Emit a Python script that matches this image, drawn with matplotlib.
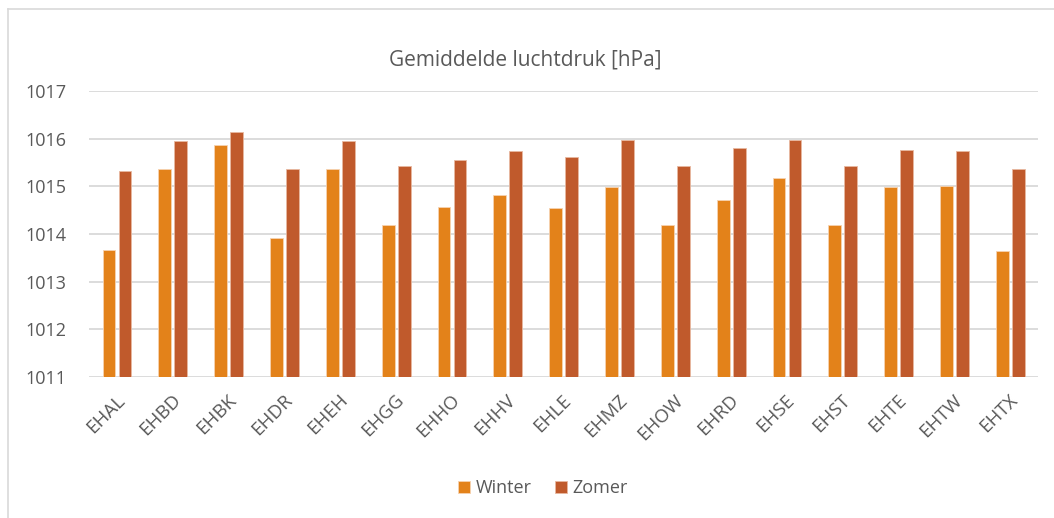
import matplotlib
matplotlib.use('Agg')
import matplotlib.pyplot as plt
import matplotlib.transforms as mtransforms
import numpy as np
from matplotlib.lines import Line2D

# stations en gemiddelde luchtdruk (hPa)
stations = ['EHAL', 'EHBD', 'EHBK', 'EHDR', 'EHEH', 'EHGG', 'EHHO', 'EHHV', 'EHLE',
            'EHMZ', 'EHOW', 'EHRD', 'EHSE', 'EHST', 'EHTE', 'EHTW', 'EHTX']
winter = [1013.66, 1015.37, 1015.87, 1013.92, 1015.37, 1014.20, 1014.57, 1014.82, 1014.54,
          1014.98, 1014.20, 1014.71, 1015.17, 1014.20, 1014.99, 1015.01, 1013.64]
zomer = [1015.33, 1015.95, 1016.15, 1015.37, 1015.95, 1015.42, 1015.56, 1015.75, 1015.62,
         1015.98, 1015.42, 1015.81, 1015.98, 1015.42, 1015.77, 1015.74, 1015.36]

kleur_winter = '#E3821A'
kleur_zomer = '#C05A2C'
tekstkleur = '#595959'

plt.rcParams['font.family'] = ['Open Sans', 'DejaVu Sans']

fig = plt.figure(figsize=(10.54, 5.18), dpi=100)
ax = fig.add_axes([0.0845, 0.272, 0.9005, 0.552])

x = np.arange(len(stations))
breedte = 0.23
ax.bar(x - 0.143, np.array(winter) - 1011, breedte, bottom=1011, color=kleur_winter,
       edgecolor='#F6D2B0', linewidth=0.6, label='Winter', zorder=3)
ax.bar(x + 0.143, np.array(zomer) - 1011, breedte, bottom=1011, color=kleur_zomer,
       edgecolor='#E8B8A0', linewidth=0.6, label='Zomer', zorder=3)

ax.set_ylim(1011, 1017)
ax.set_xlim(-0.5, len(stations) - 0.5)
ax.set_yticks(range(1011, 1018))
ax.set_xticks(x)
ax.set_xticklabels(stations, rotation=45, ha='right', rotation_mode='anchor')
ax.tick_params(axis='both', length=0, colors=tekstkleur, labelsize=13)
ax.tick_params(axis='x', labelsize=13.5, pad=10)
ax.tick_params(axis='y', pad=16)
# labels iets verschuiven, zoals in Excel
verschuiving = mtransforms.ScaledTranslation(-1 / 72, 0, fig.dpi_scale_trans)
for lbl in ax.get_xticklabels():
    lbl.set_transform(lbl.get_transform() + verschuiving)
ax.yaxis.grid(True, color='#D9D9D9', linewidth=1.3, zorder=0)
for s in ax.spines.values():
    s.set_visible(False)

fig.text(0.498, 0.884, 'Gemiddelde luchtdruk [hPa]', ha='center', va='center',
         fontsize=15, color=tekstkleur)

leg = fig.legend(loc='center', bbox_to_anchor=(0.515, 0.058), ncol=2, frameon=False,
                 fontsize=13, handlelength=0.65, handleheight=0.65, handletextpad=0.3,
                 columnspacing=1.3)
for t in leg.get_texts():
    t.set_color(tekstkleur)

# rand van de grafiek (alleen links en boven zichtbaar)
fig.add_artist(Line2D([8 / 1054, 1], [1 - 9 / 518, 1 - 9 / 518], transform=fig.transFigure,
                      color='#D9D9D9', linewidth=1.2))
fig.add_artist(Line2D([8 / 1054, 8 / 1054], [0, 1 - 9 / 518], transform=fig.transFigure,
                      color='#D9D9D9', linewidth=1.2))

fig.savefig('out.png', dpi=100)
